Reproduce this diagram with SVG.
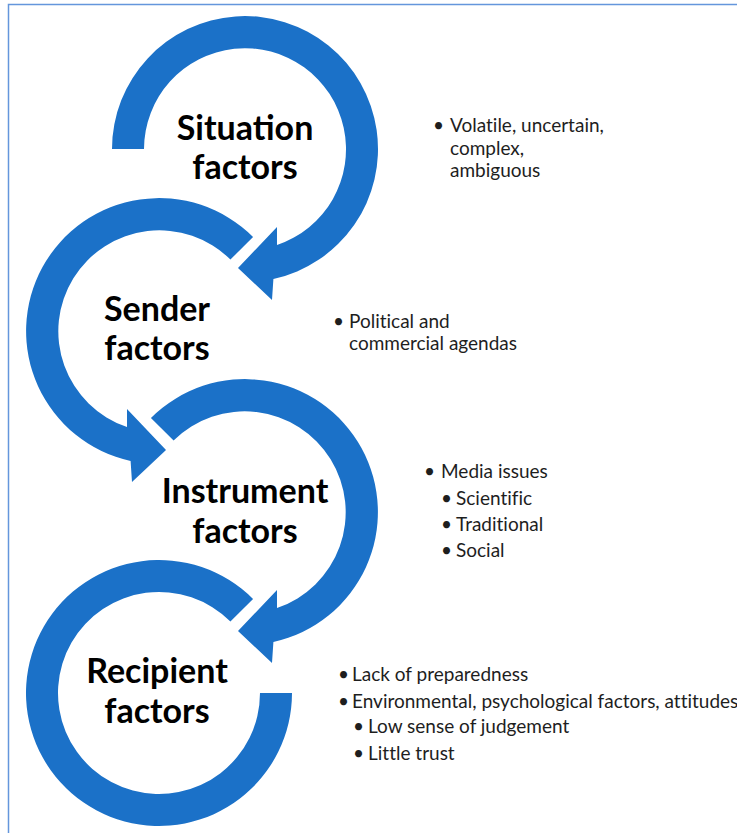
<svg xmlns="http://www.w3.org/2000/svg" width="737" height="833" viewBox="0 0 737 833">
  <style>
    .ring { fill: #1b71c8; }
    .label { font-family: Lato, "Liberation Sans", sans-serif; font-weight: 700; font-size: 34px; fill: #000; text-anchor: middle; }
    .note { font-family: Lato, "Liberation Sans", sans-serif; font-size: 19px; fill: #1e1e1e; font-variant-ligatures: none; }
    .frame { stroke: #6496dc; stroke-width: 1.5; fill: none; }
  </style>
  <rect width="737" height="833" fill="#ffffff"/>
  <!-- frame: top and left edges only -->
  <path class="frame" d="M8.5,833 V4.5 H737"/>

  <g id="connectors">
    <!-- situation -> sender (clockwise arc with head) -->
    <path id="arc-situation" class="ring" d="M112,149 A133,133 0 1 1 273.4,279 L272,300 L238,268 L277,227 L277,245 A101,101 0 1 0 144,149 Z"/>
    <!-- sender -> instrument (counter-clockwise arc with head) -->
    <path id="arc-sender" class="ring" d="M253.05,236.95 A133,133 0 1 0 130.6,461 L132,482 L166,450 L127,409 L127,427 A101,101 0 1 1 230.42,259.58 Z"/>
    <!-- instrument -> recipient (clockwise arc with head) -->
    <path id="arc-instrument" class="ring" d="M150.95,417.95 A133,133 0 1 1 273.4,642 L272,663 L238,631 L277,590 L277,608 A101,101 0 1 0 173.58,440.58 Z"/>
    <!-- recipient (closing arc, no head) -->
    <path id="arc-recipient" class="ring" d="M253.05,598.95 A133,133 0 1 0 292,693 L260,693 A101,101 0 1 1 230.42,621.58 Z"/>
  </g>

  <g id="situation">
    <text class="label" x="245" y="140">Situation</text>
    <text class="label" x="245" y="179">factors</text>
  </g>
  <g id="situation-notes" class="note">
    <text x="433" y="132">•</text>
    <text x="450" y="132">Volatile, uncertain,</text>
    <text x="450" y="155">complex,</text>
    <text x="450" y="177">ambiguous</text>
  </g>

  <g id="sender">
    <text class="label" x="157" y="321">Sender</text>
    <text class="label" x="157" y="360">factors</text>
  </g>
  <g id="sender-notes" class="note">
    <text x="333" y="328">•</text>
    <text x="349" y="328">Political and</text>
    <text x="349" y="350">commercial agendas</text>
  </g>

  <g id="instrument">
    <text class="label" x="245" y="503">Instrument</text>
    <text class="label" x="245" y="543">factors</text>
  </g>
  <g id="instrument-notes" class="note">
    <text x="424" y="478">•</text>
    <text x="441" y="478">Media issues</text>
    <text x="441" y="505">•</text>
    <text x="456" y="505">Scientific</text>
    <text x="441" y="531">•</text>
    <text x="456" y="531">Traditional</text>
    <text x="441" y="557">•</text>
    <text x="456" y="557">Social</text>
  </g>

  <g id="recipient">
    <text class="label" x="157" y="683">Recipient</text>
    <text class="label" x="157" y="723">factors</text>
  </g>
  <g id="recipient-notes" class="note">
    <text x="338" y="681">•</text>
    <text x="352" y="681">Lack of preparedness</text>
    <text x="338" y="708">•</text>
    <text x="352" y="708">Environmental, psychological factors, attitudes</text>
    <text x="353" y="733">•</text>
    <text x="368" y="733">Low sense of judgement</text>
    <text x="353" y="760">•</text>
    <text x="368" y="760">Little trust</text>
  </g>
</svg>
